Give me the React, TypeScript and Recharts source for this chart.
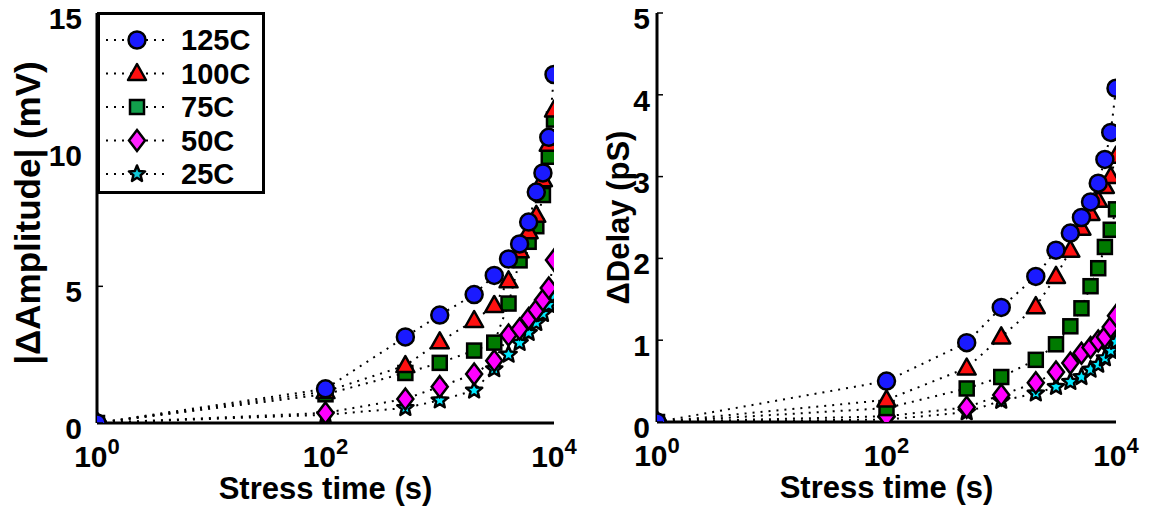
import React from 'react';
import { ComposedChart, Line, XAxis, YAxis, Legend, Label } from 'recharts';

const stressTimes = [1, 100, 500, 1000, 2000, 3000, 4000, 5000, 6000, 7000, 8000, 9000, 10000];
const seriesNames = ['125C', '100C', '75C', '50C', '25C'];

const amp125 = [0, 1.25, 3.15, 3.95, 4.7, 5.4, 6.0, 6.55, 7.35, 8.45, 9.15, 10.45, 12.75];
const amp100 = [0, 1.15, 2.1, 2.97, 3.75, 4.3, 5.2, 6.3, 7.0, 7.6, 8.9, 10.2, 11.45];
const amp75 = [0, 1.05, 1.83, 2.2, 2.65, 2.94, 4.37, 5.95, 6.63, 7.2, 8.34, 9.74, 11.1];
const amp50 = [0, 0.37, 0.88, 1.33, 1.79, 2.28, 3.22, 3.44, 3.82, 4.13, 4.5, 4.94, 5.96];
const amp25 = [0, 0.3, 0.55, 0.83, 1.19, 1.97, 2.5, 2.93, 3.3, 3.66, 3.99, 4.32, 4.65];

const del125 = [0, 0.5, 0.97, 1.4, 1.78, 2.1, 2.31, 2.5, 2.69, 2.92, 3.21, 3.54, 4.08];
const del100 = [0, 0.27, 0.66, 1.04, 1.41, 1.78, 2.1, 2.37, 2.55, 2.71, 2.88, 3.0, 3.25];
const del75 = [0, 0.17, 0.41, 0.55, 0.76, 0.95, 1.17, 1.39, 1.66, 1.88, 2.14, 2.35, 2.6];
const del50 = [0, 0.07, 0.18, 0.33, 0.48, 0.61, 0.72, 0.84, 0.91, 0.99, 1.04, 1.16, 1.3];
const del25 = [0, 0.03, 0.12, 0.26, 0.35, 0.43, 0.49, 0.55, 0.64, 0.7, 0.78, 0.87, 0.98];

const xTicks = [1, 100, 10000];
const ampTicks = [0, 5, 10, 15];
const delayTicks = [0, 1, 2, 3, 4, 5];

const FONT = '"Liberation Sans", Arial, Helvetica, sans-serif';

const kinds = ['circle', 'triangle', 'square', 'diamond', 'star'];
const fills = ['#1a1aff', '#ff1010', '#007a00', '#ff00ff', '#00e8ff'];
const legendFills = ['#1a1aff', '#ff1010', '#12a04c', '#ff22ff', '#10c8d8'];

function buildRows(cols: number[][]) {
  return stressTimes.map((t, i) => {
    const r: any = { t };
    cols.forEach((c, j) => (r['s' + j] = c[i]));
    return r;
  });
}

const ampRows = buildRows([amp125, amp100, amp75, amp50, amp25]);
const delRows = buildRows([del125, del100, del75, del50, del25]);

function Marker({ kind, cx, cy, fill }: { kind: string; cx: number; cy: number; fill: string }) {
  const sw = 2.5;
  if (kind === 'circle') return <circle cx={cx} cy={cy} r={8.5} fill={fill} stroke="#000" strokeWidth={sw} />;
  if (kind === 'triangle')
    return (
      <polygon
        points={`${cx},${cy - 9.5} ${cx + 9},${cy + 6.5} ${cx - 9},${cy + 6.5}`}
        fill={fill}
        stroke="#000"
        strokeWidth={sw}
        strokeLinejoin="round"
      />
    );
  if (kind === 'square') return <rect x={cx - 7} y={cy - 7} width={14} height={14} fill={fill} stroke="#000" strokeWidth={sw} />;
  if (kind === 'diamond')
    return (
      <polygon
        points={`${cx},${cy - 10.5} ${cx + 8},${cy} ${cx},${cy + 10.5} ${cx - 8},${cy}`}
        fill={fill}
        stroke="#000"
        strokeWidth={sw}
      />
    );
  const pts: string[] = [];
  for (let k = 0; k < 10; k++) {
    const r = k % 2 === 0 ? 8.5 : 3.8;
    const a = -Math.PI / 2 + (k * Math.PI) / 5;
    pts.push(`${cx + r * Math.cos(a)},${cy + r * Math.sin(a)}`);
  }
  return <polygon points={pts.join(' ')} fill={fill} stroke="#000" strokeWidth={sw} strokeLinejoin="round" />;
}

const XTick = (props: any) => {
  const { x, y, payload } = props;
  const exp = Math.round(Math.log10(payload.value));
  return (
    <text x={x} y={y + 44} textAnchor="middle" fontFamily={FONT} fontWeight="bold" fontSize={30} fill="#000">
      <tspan>10</tspan>
      <tspan dy={-13} fontSize={22}>{exp}</tspan>
    </text>
  );
};

const makeYTick = (margin: number) => (props: any) => {
  const { x, y, payload } = props;
  return (
    <g>
      <text x={x} y={y + 16} textAnchor="end" fontFamily={FONT} fontWeight="bold" fontSize={30} fill="#000">
        {payload.value}
      </text>
      <line x1={x + margin} x2={x + margin + 6} y1={y} y2={y} stroke="#000" strokeWidth={1.5} />
    </g>
  );
};

const LegendBox = () => (
  <svg width={168} height={182} style={{ display: 'block' }}>
    <rect x={1.5} y={1.5} width={165} height={179} fill="#fff" stroke="#000" strokeWidth={3} />
    {seriesNames.map((n, i) => {
      const cy = 28 + i * 33.5;
      return (
        <g key={n}>
          <line x1={9} x2={72} y1={cy} y2={cy} stroke="#000" strokeWidth={2} strokeDasharray="2 6" />
          <Marker kind={kinds[i]} cx={40} cy={cy} fill={legendFills[i]} />
          <text x={84} y={cy + 10} fontFamily={FONT} fontWeight="bold" fontSize={29} fill="#000">
            {n}
          </text>
        </g>
      );
    })}
  </svg>
);

function Panel({
  rows,
  width,
  yWidth,
  rightMargin,
  xHeight,
  yMax,
  yTicks,
  yTitle,
  yTitleX,
  yTitleDy,
  yTitleSize,
  tickMargin,
  legend,
}: any) {
  const order = [4, 3, 2, 1, 0];
  return (
    <ComposedChart width={width} height={514} data={rows} margin={{ top: 13, right: rightMargin, bottom: 0, left: 0 }}>
      <XAxis
        xAxisId="b"
        dataKey="t"
        type="number"
        scale="log"
        domain={[1, 10000]}
        ticks={xTicks}
        orientation="bottom"
        height={xHeight}
        tickSize={0}
        tickMargin={0}
        tick={<XTick />}
        axisLine={{ stroke: '#000', strokeWidth: 3 }}
        tickLine={false}
        allowDataOverflow
      >
        <Label
          content={(p: any) => {
            const vb = p.viewBox;
            return (
              <text
                x={vb.x + vb.width / 2}
                y={vb.y + 76}
                textAnchor="middle"
                fontFamily={FONT}
                fontWeight="bold"
                fontSize={31}
                fill="#000"
              >
                Stress time (s)
              </text>
            );
          }}
        />
      </XAxis>
      <XAxis
        xAxisId="t"
        dataKey="t"
        type="number"
        scale="log"
        domain={[1, 10000]}
        orientation="top"
        height={0}
        tick={false}
        tickLine={false}
        axisLine={{ stroke: '#000', strokeWidth: 3 }}
        allowDataOverflow
      />
      <YAxis
        yAxisId="l"
        type="number"
        domain={[0, yMax]}
        ticks={yTicks}
        width={yWidth}
        tickSize={0}
        tickMargin={tickMargin}
        tickLine={false}
        tick={makeYTick(tickMargin)}
        axisLine={{ stroke: '#000', strokeWidth: 3 }}
        allowDataOverflow
      >
        <Label
          content={(p: any) => {
            const vb = p.viewBox;
            const cx = vb.x + yTitleX;
            const cy = vb.y + vb.height / 2 + yTitleDy;
            return (
              <text
                x={cx}
                y={cy}
                transform={`rotate(-90 ${cx} ${cy})`}
                textAnchor="middle"
                dominantBaseline="central"
                fontFamily={FONT}
                fontWeight="bold"
                fontSize={yTitleSize}
                fill="#000"
              >
                {yTitle}
              </text>
            );
          }}
        />
      </YAxis>
      <YAxis
        yAxisId="r"
        orientation="right"
        type="number"
        domain={[0, yMax]}
        width={0}
        tick={false}
        tickLine={false}
        axisLine={{ stroke: '#000', strokeWidth: 3 }}
        allowDataOverflow
      />
      {order.map((j) => (
        <Line
          key={j}
          xAxisId="b"
          yAxisId="l"
          dataKey={'s' + j}
          name={seriesNames[j]}
          type="linear"
          stroke="#000"
          strokeWidth={2}
          strokeDasharray="2 6"
          isAnimationActive={false}
          dot={(p: any) => <Marker key={'d' + j + '-' + p.index} kind={kinds[j]} cx={p.cx} cy={p.cy} fill={fills[j]} />}
          activeDot={false}
        />
      ))}
      {legend && (
        <Legend
          layout="vertical"
          align="center"
          verticalAlign="middle"
          content={() => <LegendBox />}
          wrapperStyle={{ position: 'absolute', left: 97, top: 12, width: 168, height: 182 }}
        />
      )}
    </ComposedChart>
  );
}

export default function App() {
  return (
    <div style={{ position: 'absolute', left: 0, top: 0, width: 1150, height: 514, background: '#fff' }}>
      <div style={{ position: 'absolute', left: 0, top: 0 }}>
        <Panel
          rows={ampRows}
          width={600}
          yWidth={97}
          rightMargin={46}
          xHeight={91}
          yMax={15}
          yTicks={ampTicks}
          yTitle="|ΔAmplitude| (mV)"
          yTitleX={27}
          yTitleDy={-5}
          yTitleSize={35}
          tickMargin={15}
          legend
        />
      </div>
      <div style={{ position: 'absolute', left: 580, top: 0 }}>
        <Panel
          rows={delRows}
          width={570}
          yWidth={77}
          rightMargin={34}
          xHeight={92}
          yMax={5}
          yTicks={delayTicks}
          yTitle="ΔDelay (pS)"
          yTitleX={38}
          yTitleDy={0}
          yTitleSize={31}
          tickMargin={7}
          legend={false}
        />
      </div>
    </div>
  );
}
